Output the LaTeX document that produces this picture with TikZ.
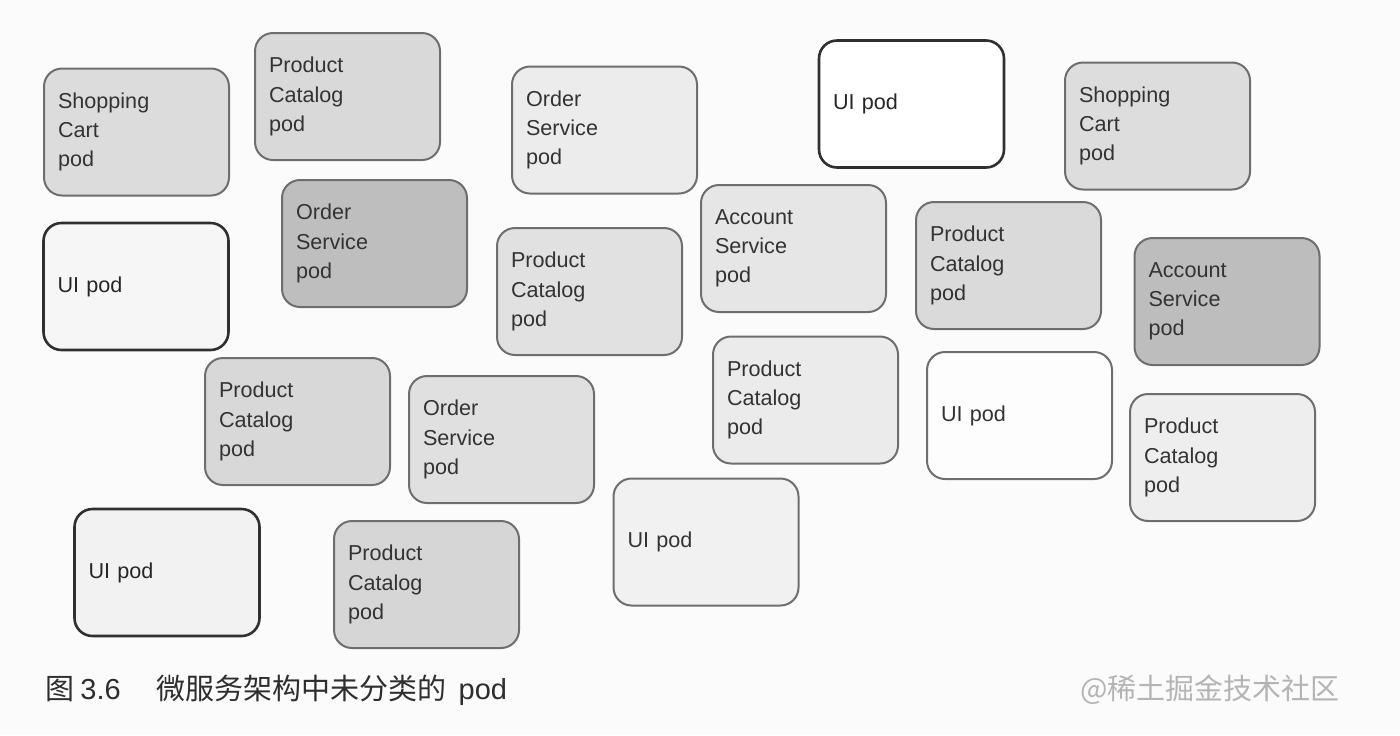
\documentclass[tikz,border=0pt]{standalone}
\usepackage{fontspec}
\setmainfont{Liberation Sans}
\newfontfamily\podfont{Liberation Sans}
\newfontfamily\cjkfont{Noto Sans CJK SC}
\definecolor{bggray}{HTML}{FBFBFB}
\definecolor{edgegray}{HTML}{6E6E6E}
\definecolor{edgedark}{HTML}{303030}
\definecolor{podtext}{HTML}{333333}
\definecolor{captext}{HTML}{2E2E2E}
\definecolor{marktext}{HTML}{B4B4B4}
\tikzset{
  pod/.style={draw=edgegray, line width=1pt, rounded corners=9pt,
    minimum width=92.5pt, minimum height=63.5pt, text width=78.5pt,
    inner xsep=7pt, inner ysep=0pt, align=left, anchor=center,
    font=\podfont\fontsize{10.8}{14.6}\selectfont, text=podtext},
  uipod/.style={pod, draw=edgedark, line width=1.3pt, text=black!85},
}
\begin{document}
\begin{tikzpicture}[x=0.5pt,y=-0.5pt]
\fill[bggray] (0,0) rectangle (1400,735);
\useasboundingbox (0,0) rectangle (1400,735);
\node[pod, fill={rgb,255:red,220;green,220;blue,220}] (sc1) at (136.5,132) {Shopping\\Cart\\pod};
\node[pod, fill={rgb,255:red,217;green,217;blue,217}] (pc1) at (347.5,96.5) {Product\\Catalog\\pod};
\node[pod, fill={rgb,255:red,236;green,236;blue,236}] (os1) at (604.5,130) {Order\\Service\\pod};
\node[uipod, fill=white] (ui1) at (911.5,104) {UI pod};
\node[pod, fill={rgb,255:red,221;green,221;blue,221}] (sc2) at (1157.5,126) {Shopping\\Cart\\pod};
\node[uipod, fill={rgb,255:red,246;green,246;blue,246}] (ui2) at (136,286.5) {UI pod};
\node[pod, fill={rgb,255:red,190;green,190;blue,190}] (os2) at (374.5,243.5) {Order\\Service\\pod};
\node[pod, fill={rgb,255:red,225;green,225;blue,225}] (pc2) at (589.5,291.5) {Product\\Catalog\\pod};
\node[pod, fill={rgb,255:red,230;green,230;blue,230}] (as1) at (793.5,248.5) {Account\\Service\\pod};
\node[pod, fill={rgb,255:red,218;green,218;blue,218}] (pc3) at (1008.5,265.5) {Product\\Catalog\\pod};
\node[pod, fill={rgb,255:red,189;green,189;blue,189}] (as2) at (1227,301.5) {Account\\Service\\pod};
\node[pod, fill={rgb,255:red,216;green,216;blue,216}] (pc4) at (297.5,421.5) {Product\\Catalog\\pod};
\node[pod, fill={rgb,255:red,224;green,224;blue,224}] (os3) at (501.5,439.5) {Order\\Service\\pod};
\node[pod, fill={rgb,255:red,235;green,235;blue,235}] (pc5) at (805.5,400) {Product\\Catalog\\pod};
\node[pod, fill={rgb,255:red,253;green,253;blue,253}] (ui3) at (1019.5,415.5) {UI pod};
\node[pod, fill={rgb,255:red,238;green,238;blue,238}] (pc6) at (1222.5,457.5) {Product\\Catalog\\pod};
\node[uipod, fill={rgb,255:red,242;green,242;blue,242}] (ui4) at (167,572.5) {UI pod};
\node[pod, fill={rgb,255:red,214;green,214;blue,214}] (pc7) at (426.5,584.5) {Product\\Catalog\\pod};
\node[pod, fill={rgb,255:red,241;green,241;blue,241}] (ui5) at (706,542) {UI pod};
\node[anchor=west, inner sep=0pt, text=captext, font=\cjkfont\fontsize{14.5}{16}\selectfont] (cap) at (45,690) {图\hspace{3pt}{\podfont 3.6}\hspace{18pt}微服务架构中未分类的\hspace{6pt}{\podfont pod}};
\node[anchor=east, inner sep=0pt, text=marktext, font=\cjkfont\fontsize{14.5}{16}\selectfont] (mark) at (1340,690) {@稀土掘金技术社区};
\end{tikzpicture}
\end{document}
